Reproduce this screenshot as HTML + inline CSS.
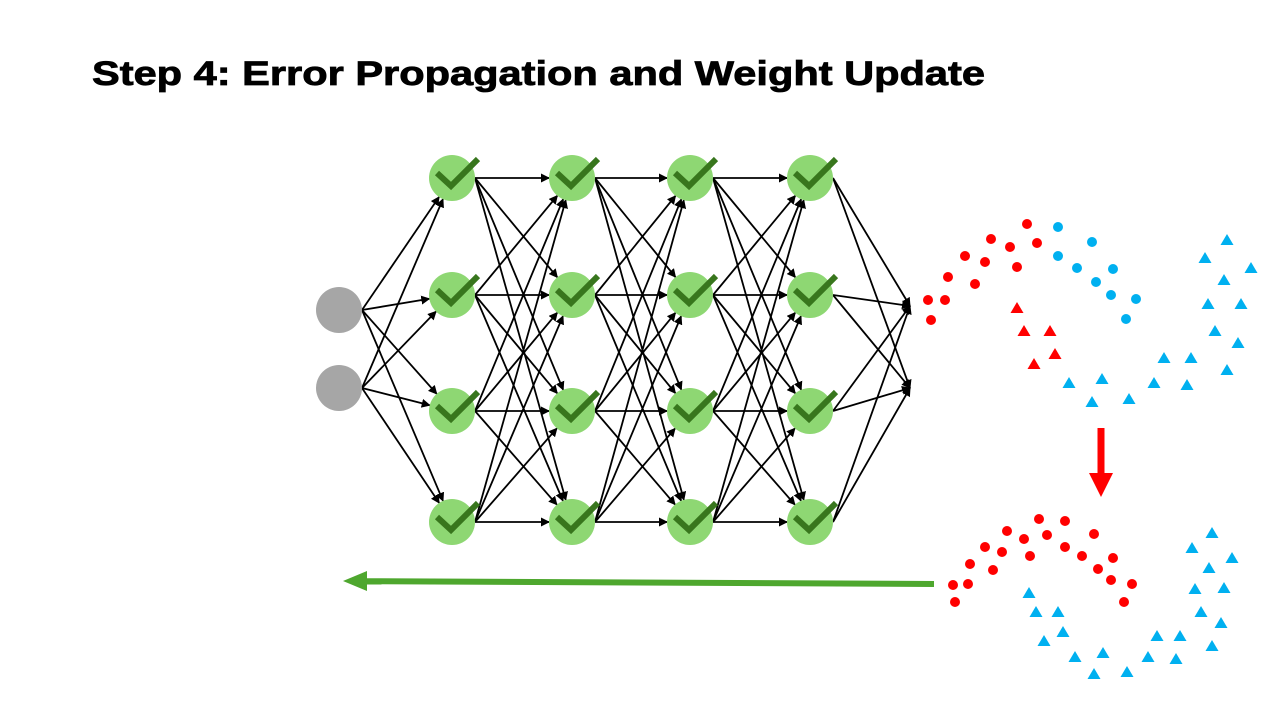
<!DOCTYPE html>
<html><head><meta charset="utf-8"><style>
html,body{margin:0;padding:0;background:#fff;width:1280px;height:720px;overflow:hidden}
svg{display:block}
</style></head><body>
<svg id="s" width="1280" height="720" viewBox="0 0 1280 720">
<defs>
<marker id="ah" markerWidth="9" markerHeight="9" refX="8" refY="4.5" orient="auto" markerUnits="userSpaceOnUse"><path d="M0,0 L9,4.5 L0,9 z" fill="#000"/></marker>
</defs>
<text x="92" y="85" font-family="Liberation Sans, sans-serif" font-weight="bold" font-size="34" textLength="893" lengthAdjust="spacingAndGlyphs" fill="#000" stroke="#000" stroke-width="0.8">Step 4: Error Propagation and Weight Update</text>
<g id="edges"></g>
<g id="nodes"></g>
<g id="pts"></g>
<polygon points="1097.5,428 1104.5,428 1104.5,473 1113,473 1101,497 1089,473 1097.5,473" fill="#ff0000"/>
<g>
<line x1="934" y1="584" x2="362" y2="581.2" stroke="#4ea72e" stroke-width="6"/>
<polygon points="343,581 367,571 367,591" fill="#4ea72e"/>
</g>
</svg>
<script>
const inputY=[310,388];
const layerX=[452,572,690,810];
const layerY=[178,295,411,522];
const outY=[306,388];
const redCircles1=[[1027,224],[991,239],[1010,247],[1037,243],[965,256],[985,262],[1017,267],[948,277],[975,284],[928,300],[945,300],[931,320]];
const blueCircles1=[[1058,227],[1092,242],[1058,256],[1077,268],[1113,269],[1096,282],[1111,295],[1136,299],[1126,319]];
const redTri1=[[1017,308],[1024,331],[1050,331],[1055,354],[1034,364]];
const blueTri1=[[1227,240],[1205,258],[1251,268],[1224,280],[1208,304],[1241,304],[1215,331],[1238,343],[1164,358],[1191,358],[1227,370],[1069,383],[1102,379],[1154,383],[1187,385],[1092,402],[1129,399]];
const redCircles2=[[1039,519],[1065,521],[1007,531],[1024,539],[1047,535],[1094,534],[985,547],[1002,552],[1030,556],[1065,547],[1082,556],[1113,558],[970,564],[993,570],[1098,569],[1111,580],[1132,584],[953,585],[968,584],[955,602],[1124,602]];
const blueTri2=[[1212,533],[1192,548],[1232,558],[1209,568],[1195,589],[1224,588],[1201,612],[1221,623],[1212,646],[1029,593],[1036,612],[1058,612],[1063,632],[1044,641],[1075,657],[1103,653],[1157,636],[1180,636],[1148,657],[1176,659],[1094,674],[1127,672]];
const NS='http://www.w3.org/2000/svg';
const E=document.getElementById('edges'),N=document.getElementById('nodes'),P=document.getElementById('pts');
const R=23;
function edge(x1,y1,x2,y2){
  const l1=document.createElementNS(NS,'line');
  l1.setAttribute('x1',x1);l1.setAttribute('y1',y1);
  l1.setAttribute('x2',x2);l1.setAttribute('y2',y2);
  l1.setAttribute('stroke','#000');l1.setAttribute('stroke-width','1.8');
  l1.setAttribute('marker-end','url(#ah)');
  
  
  E.appendChild(l1);
}
// start at right edge point of source, end on target circle boundary
function edgeTo(cx1,y1,cx2,y2,endR){
  const x1=cx1+R;
  const dx=cx2-x1,dy=y2-y1,l=Math.hypot(dx,dy);
  edge(x1,y1,cx2-dx/l*endR,y2-dy/l*endR);
}
const inX=339;
inputY.forEach(a=>layerY.forEach(b=>edgeTo(inX,a,layerX[0],b,R)));
for(let i=0;i<layerX.length-1;i++)layerY.forEach(a=>layerY.forEach(b=>edgeTo(layerX[i],a,layerX[i+1],b,R)));
layerY.forEach(a=>outY.forEach(b=>edgeTo(layerX[3],a,910,b,0)));
inputY.forEach(y=>{
  const c=document.createElementNS(NS,'circle');
  c.setAttribute('cx',inX);c.setAttribute('cy',y);c.setAttribute('r',R);c.setAttribute('fill','#a6a6a6');
  
  
  N.appendChild(c);
});
layerX.forEach(x=>layerY.forEach(y=>{
  const c=document.createElementNS(NS,'circle');
  c.setAttribute('cx',x);c.setAttribute('cy',y);c.setAttribute('r',R);c.setAttribute('fill','#8ed773');
  
  
  N.appendChild(c);
  const k=document.createElementNS(NS,'polyline');
  k.setAttribute('points',`${x-15},${y-5} ${x-1},${y+8} ${x+26},${y-19}`);
  k.setAttribute('fill','none');k.setAttribute('stroke','#38761d');k.setAttribute('stroke-width','6');
  
  
  N.appendChild(k);
}));
function circ(arr,col){arr.forEach(p=>{
  const c=document.createElementNS(NS,'circle');
  c.setAttribute('cx',p[0]);c.setAttribute('cy',p[1]);c.setAttribute('r',5);c.setAttribute('fill',col);
  
  
  P.appendChild(c);
});}
function tri(arr,col){arr.forEach(p=>{
  const t=document.createElementNS(NS,'polygon');
  const x=p[0],y=p[1];
  t.setAttribute('points',`${x},${y-6} ${x+6.5},${y+5} ${x-6.5},${y+5}`);t.setAttribute('fill',col);
  
  
  P.appendChild(t);
});}
const RED='#ff0000',BLUE='#00b0f0';
circ(redCircles1,RED);circ(blueCircles1,BLUE);tri(redTri1,RED);tri(blueTri1,BLUE);
circ(redCircles2,RED);tri(blueTri2,BLUE);
</script>
</body></html>
